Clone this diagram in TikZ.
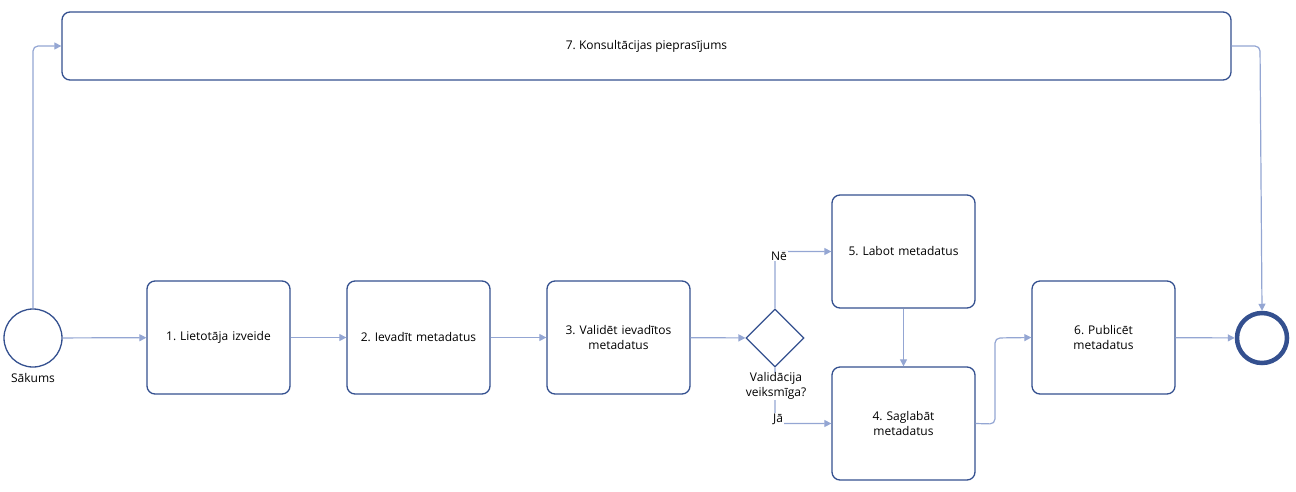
\documentclass[tikz,border=0pt]{standalone}
\usepackage{fontspec}
\setmainfont{Open Sans}
\usetikzlibrary{arrows.meta,shapes.geometric}
\definecolor{bord}{HTML}{34508F}
\definecolor{arr}{HTML}{94A6D3}
\begin{document}
\frenchspacing
\begin{tikzpicture}[x=1pt,y=-1pt,
  box/.style={draw=bord,line width=1.3pt,rounded corners=8pt,minimum width=143pt,minimum height=113pt,align=center,font=\fontsize{12}{15}\selectfont,text width=135pt},
  lbl/.style={font=\fontsize{12}{15}\selectfont,align=center,inner sep=1pt},
  con/.style={draw=arr,line width=1.2pt,-{Triangle[length=7pt,width=7pt]},rounded corners=5pt}]
\useasboundingbox (0,0) rectangle (1296,491);
\node[draw=bord,line width=1.3pt,circle,minimum size=58pt,inner sep=0] (s) at (33,338) {};
\node[lbl] (sl) at (33,378) {Sākums};
\node[box] (b1) at (218.5,337.5) {1. Lietotāja izveide};
\node[box] (b2) at (418.5,337.5) {2. Ievadīt metadatus};
\node[box] (b3) at (618.5,337.5) {3. Validēt ievadītos\\metadatus};
\node[draw=bord,line width=1.3pt,diamond,minimum size=58pt,inner sep=0] (d) at (775,338) {};
\node[box] (b5) at (903.5,251.5) {5. Labot metadatus};
\node[box] (b4) at (903.5,423.5) {4. Saglabāt\\metadatus};
\node[box] (b6) at (1103.5,337.5) {6. Publicēt\\metadatus};
\node[draw=bord,line width=4.5pt,circle,minimum size=50pt,inner sep=0] (e) at (1262,338) {};
\node[draw=bord,line width=1.3pt,rounded corners=8pt,minimum width=1169pt,minimum height=68pt,lbl] (b7) at (646.5,46) {7. Konsultācijas pieprasījums};
\draw[con] (s) -- (b1);
\draw[con] (b1) -- (b2);
\draw[con] (b2) -- (b3);
\draw[con] (b3) -- (d);
\draw[con] (s.north) |- (b7.west);
\draw[con] (b7.east) -- (1260,46) -- (e.north);
\draw[con] (d.north) |- (b5.west);
\draw[con] (d.south) |- (b4.west);
\node[lbl,fill=white] (ne) at (779,256) {Nē};
\node[lbl,fill=white] (ja) at (778,419) {Jā};
\node[lbl,fill=white,inner sep=0pt] (dl) at (776,386) {Validācija\\veiksmīga?};
\draw[con] (b5) -- (b4);
\draw[con] (b4.east) -- (995,424) -- (995,338) -- (b6.west);
\draw[con] (b6) -- (e);
\end{tikzpicture}
\end{document}
